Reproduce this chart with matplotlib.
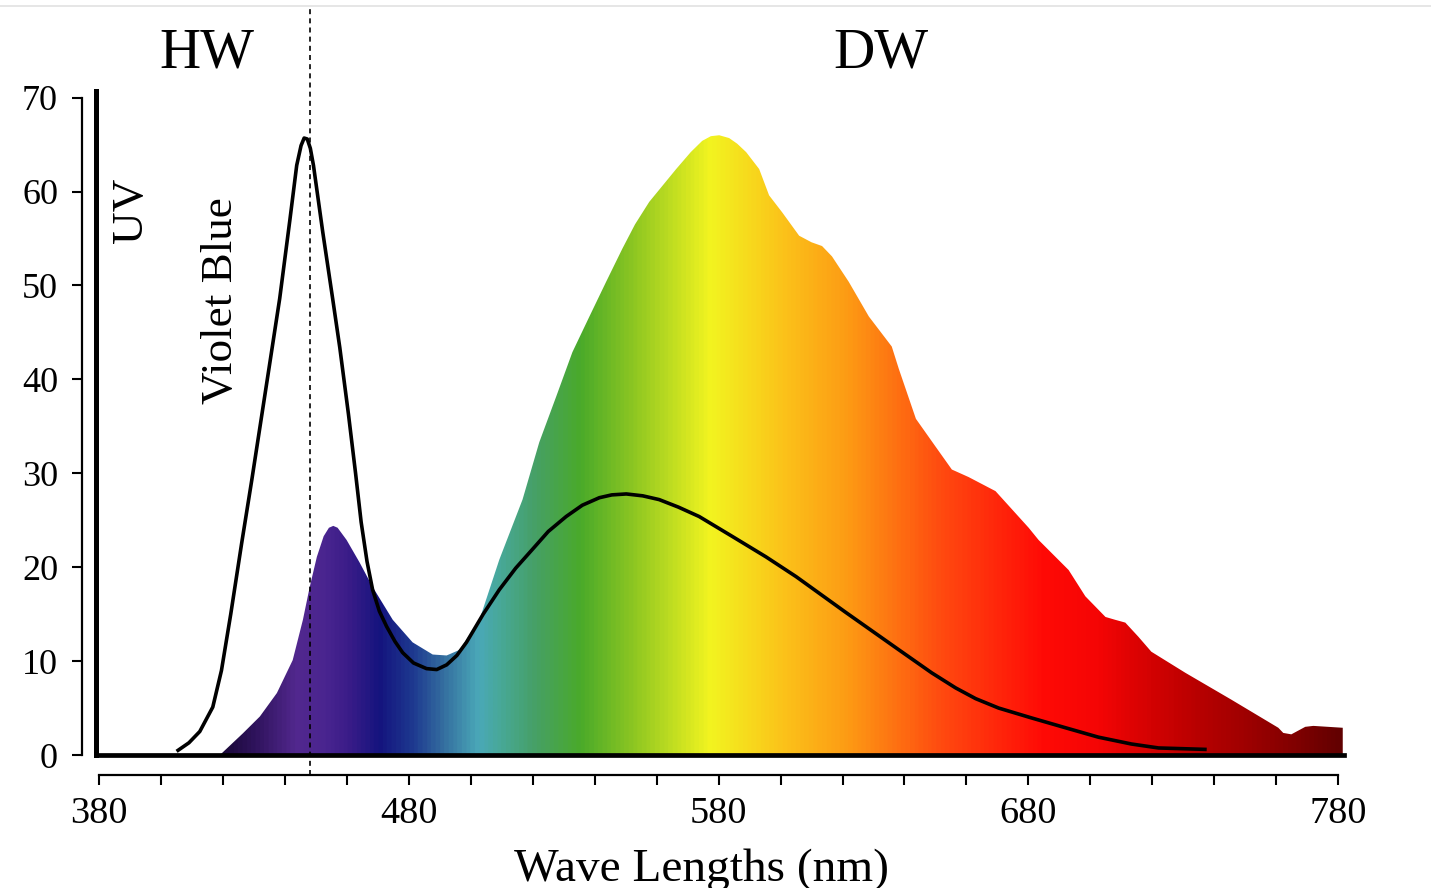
import numpy as np
import matplotlib.pyplot as plt
from matplotlib.colors import LinearSegmentedColormap
from matplotlib.lines import Line2D

plt.rcParams['font.family'] = ['Liberation Serif', 'DejaVu Serif']

# black line spectrum (wavelength nm, value)
led_wl = [405.5, 409, 412.5, 416.7, 419.5, 422.5, 426, 429.3, 435, 438.3, 441.6, 443.8,
          445.2, 446.2, 447.2, 448.2, 449.2, 452.2, 455.4, 457.7, 460.5, 462.8, 464.6,
          466.5, 468.3, 470.5, 472.8, 475.5, 478, 481.5, 485.7, 489, 492.2, 495.5, 498.6,
          504, 509.2, 514.5, 519.9, 525, 530.8, 536, 541.5, 545.5, 550.2, 555.5, 560.8,
          567, 573.7, 584.3, 595.3, 605, 621, 638.2, 648.8, 656.5, 663, 670.4, 681, 692,
          702.6, 713.3, 722, 737]
led_val = [0.5, 1.3, 2.5, 5.1, 9.0, 15.0, 22.5, 29.3, 41.5, 48.6, 57.0, 62.8,
           64.9, 65.7, 65.6, 64.6, 62.8, 55.7, 48.6, 43.4, 36.3, 30.0, 24.8,
           20.6, 17.6, 15.3, 13.7, 12.1, 10.9, 9.8, 9.2, 9.1, 9.6, 10.6, 12.0,
           15.0, 17.6, 19.9, 21.9, 23.8, 25.4, 26.6, 27.4, 27.7, 27.8, 27.6, 27.2,
           26.4, 25.4, 23.3, 21.1, 19.0, 15.2, 11.2, 8.75, 7.15, 6.0, 5.0, 3.95, 2.9,
           1.9, 1.17, 0.75, 0.6]

# coloured filled spectrum
spec_wl = [419, 426.4, 431.9, 437.4, 442.5, 445.8, 448, 450.3, 452.5, 454.2, 455.6, 457,
           459.9, 464.1, 468.3, 474.8, 481.2, 487.7, 492.2, 496.4, 502.8, 509.2, 516.7,
           522.1, 527.6, 532.8, 538.3, 543.7, 548.9, 553, 557.6, 566.3, 571, 574.7, 577.5,
           580.2, 583.4, 586, 588.9, 593.1, 596.3, 600.5, 606, 610, 613.4, 616.6, 622,
           628.5, 635.9, 638.2, 643.7, 649.7, 655.3, 660.7, 669.4, 680.1, 683.3, 693,
           698.4, 704.9, 708, 711.3, 715.5, 719.7, 730.7, 745.5, 760.7, 762.3, 764.9,
           769.4, 772, 781.5]
spec_val = [0.0, 2.3, 4.1, 6.6, 10.1, 14.4, 17.9, 21.1, 23.3, 24.2, 24.4, 24.2,
            22.9, 20.5, 17.9, 14.4, 12.0, 10.7, 10.6, 11.2, 14.4, 20.8, 27.2,
            33.3, 38.2, 42.9, 46.7, 50.4, 53.9, 56.5, 58.9, 62.4, 64.2, 65.4, 65.9,
            66.0, 65.7, 65.1, 64.2, 62.4, 59.6, 57.8, 55.3, 54.6, 54.2, 53.1, 50.4,
            46.7, 43.5, 41.1, 35.8, 33.0, 30.4, 29.6, 28.1, 24.2, 22.9, 19.7,
            16.9, 14.7, 14.4, 14.1, 12.6, 11.0, 8.75, 5.9, 2.9, 2.35, 2.2,
            3.0, 3.1, 2.9]

# gradient colour stops by wavelength
stop_wl = [419, 430, 443, 452, 460, 470, 481, 491, 502, 509, 520, 535, 552, 577,
           600, 622, 652, 685, 703, 713, 735, 750, 767, 782]
stop_col = ['#1a0838', '#30145e', '#52288e', '#4a2590', '#3a1c88', '#14147e', '#1e3a90',
            '#3570a0', '#4aa8b8', '#48a898', '#46a068', '#4aaa2a', '#8cc622', '#f2f420',
            '#fbc41a', '#fd9a14', '#ff4a10', '#ff0a06', '#f50505', '#e00303', '#b80000',
            '#a00000', '#800000', '#600000']

x_major = [380, 480, 580, 680, 780]
y_ticks = [0, 10, 20, 30, 40, 50, 60, 70]

W, H = 1431, 888
fig = plt.figure(figsize=(W / 100, H / 100), dpi=100)
ax_w, ax_h = 1248.3, 676.1
ax = fig.add_axes([96 / W, 1 - 755 / H, ax_w / W, ax_h / H])
ax.set_xlim(379, 782)
ax.set_ylim(0, 72)

pos = [(w - stop_wl[0]) / (stop_wl[-1] - stop_wl[0]) for w in stop_wl]
cmap = LinearSegmentedColormap.from_list('spec', list(zip(pos, stop_col)))
grad = np.linspace(0, 1, 1200)[np.newaxis, :]
im = ax.imshow(grad, cmap=cmap, aspect='auto', extent=(stop_wl[0], stop_wl[-1], 0, 70),
               interpolation='bilinear', zorder=1)
fb = ax.fill_between(spec_wl, spec_val, 0, facecolor='none', edgecolor='none')
im.set_clip_path(fb.get_paths()[0], ax.transData)

ax.plot(led_wl, led_val, color='black', lw=2.6, zorder=3, solid_joinstyle='round')

ax.axvline(448, ymin=-20 / ax_h, ymax=(755 - 5) / ax_h, color='black', lw=1.2,
           ls=(0, (3, 2.5)), clip_on=False, zorder=5)

for s in ['top', 'right']:
    ax.spines[s].set_visible(False)
ax.spines['left'].set_linewidth(3.6)
ax.spines['left'].set_bounds(0, 70.7)
ax.spines['bottom'].set_linewidth(3.4)
ax.tick_params(left=False, bottom=False, labelleft=False, labelbottom=False)

sy = ax.secondary_yaxis(-14 / ax_w)
sy.set_yticks(y_ticks)
sy.spines['left'].set_linewidth(1.6)
sy.spines['left'].set_bounds(0, 70)
sy.tick_params(axis='y', length=7.2, width=1.5, labelsize=26, pad=10)

sx = ax.secondary_xaxis(-20 / ax_h)
sx.set_xticks(x_major)
sx.set_xticks(np.arange(380, 781, 20), minor=True)
sx.spines['bottom'].set_linewidth(1.6)
sx.spines['bottom'].set_bounds(380, 780)
sx.tick_params(axis='x', which='both', length=7.2, width=1.5, labelsize=27.5, pad=8.5)

ax.set_xlabel('Wave Lengths (nm)', fontsize=34)
ax.xaxis.set_label_coords((701 - 96) / ax_w, (755 - 848) / ax_h)

ax.text(414.8, 73.2, 'HW', fontsize=41, ha='center', va='baseline', clip_on=False)
ax.text(632.4, 73.2, 'DW', fontsize=41, ha='center', va='baseline', clip_on=False)
ax.text(393.9, 58.0, 'UV', fontsize=32.5, rotation=90, rotation_mode='anchor',
        ha='center', va='baseline')
ax.text(422.9, 48.35, 'Violet Blue', fontsize=32.5, rotation=90, rotation_mode='anchor',
        ha='center', va='baseline')

fig.add_artist(Line2D([0, 1], [1 - 6 / H] * 2, transform=fig.transFigure,
                      color='#e2e2e2', lw=1.2))

fig.savefig('out.png', dpi=100)
